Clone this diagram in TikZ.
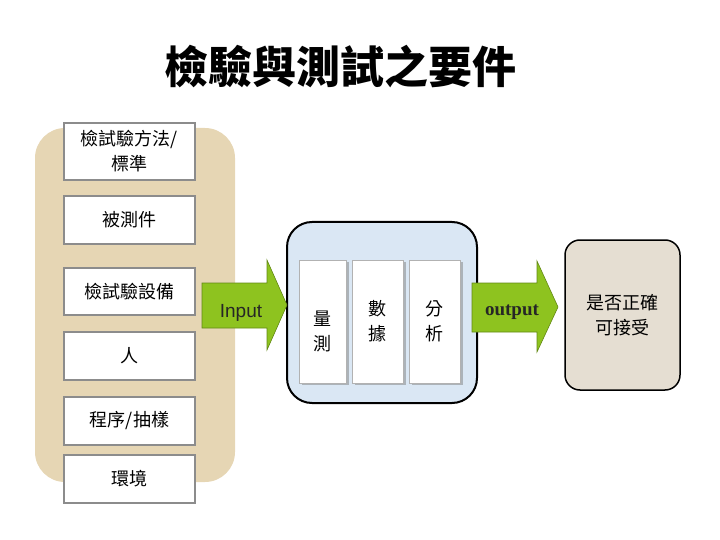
\documentclass[tikz,border=0pt]{standalone}
\usepackage{fontspec}
\setmainfont{Liberation Serif}
\setsansfont{Liberation Sans}
\newfontfamily\cjk{Noto Sans CJK TC}
\usetikzlibrary{shadows}
\definecolor{tanbg}{HTML}{E6D6B4}
\definecolor{bluebg}{HTML}{DAE7F4}
\definecolor{sandbg}{HTML}{E5DED2}
\definecolor{lime}{HTML}{8EC31F}
\definecolor{boxgray}{HTML}{8C8C8C}

\begin{document}
\begin{tikzpicture}[
  x=1pt, y=-1pt,
  zh/.style={font=\cjk\fontsize{18}{25}\selectfont, text=black, align=center},
  item/.style={zh, draw=boxgray, line width=2.2pt, fill=white,
    minimum width=131pt, inner sep=0pt},
  col/.style={draw=gray!60, line width=0.6pt, fill=white, minimum height=123pt,
    inner sep=0pt, drop shadow={shadow xshift=3pt, shadow yshift=-2pt, fill=gray}},
  block/.style={fill=lime, draw=lime!70!black, line width=0.6pt}
]
\useasboundingbox (0,0) rectangle (720,540);

% title
\node[font=\cjk\bfseries\fontsize{44}{48}\selectfont] (title) at (340,67) {檢驗與測試之要件};

% requirements
\fill[tanbg, rounded corners=30pt] (35,128) rectangle (235,482);
\node[item, minimum height=57pt] (method) at (129.5,151.5) {檢試驗方法/\\標準};
\node[item, minimum height=48pt] (sample) at (129.5,220) {被測件};
\node[item, minimum height=47pt] (equip) at (129.5,291.5) {檢試驗設備};
\node[item, minimum height=48pt] (people) at (129.5,356) {人};
\node[item, minimum height=48pt] (proced) at (129.5,421) {程序/抽樣};
\node[item, minimum height=48pt] (envir) at (129.5,479) {環境};

% process
\node[draw=black, line width=2pt, fill=bluebg, rounded corners=25pt,
  minimum width=190pt, minimum height=181pt] (proc) at (382,312.5) {};
\node[col, minimum width=47pt] (meas) at (322.5,321.5) {};
\node[zh] (meastext) at (322.5,331) {量\\測};
\node[col, zh, minimum width=51pt] (data) at (377.5,321.5) {數\\據};
\node[col, zh, minimum width=51pt] (anal) at (434.5,321.5) {分\\析};

% result
\node[zh, draw=black, line width=1.5pt, fill=sandbg, rounded corners=15pt,
  minimum width=115pt, minimum height=150pt] (result) at (622.5,315) {是否正確\\可接受};

% arrows
\draw[block] (202,283) -- (267,283) -- (267,260) -- (287,305) -- (267,350)
  -- (267,328) -- (202,328) -- cycle;
\node[font=\sffamily\fontsize{19}{22}\selectfont, text=black!85] (input) at (241,313) {Input};
\draw[block] (472,283) -- (537,283) -- (537,261) -- (558,307) -- (537,352)
  -- (537,332) -- (472,332) -- cycle;
\node[font=\bfseries\fontsize{19}{22}\selectfont, text=black!85] (output) at (512,312) {output};
\end{tikzpicture}
\end{document}
